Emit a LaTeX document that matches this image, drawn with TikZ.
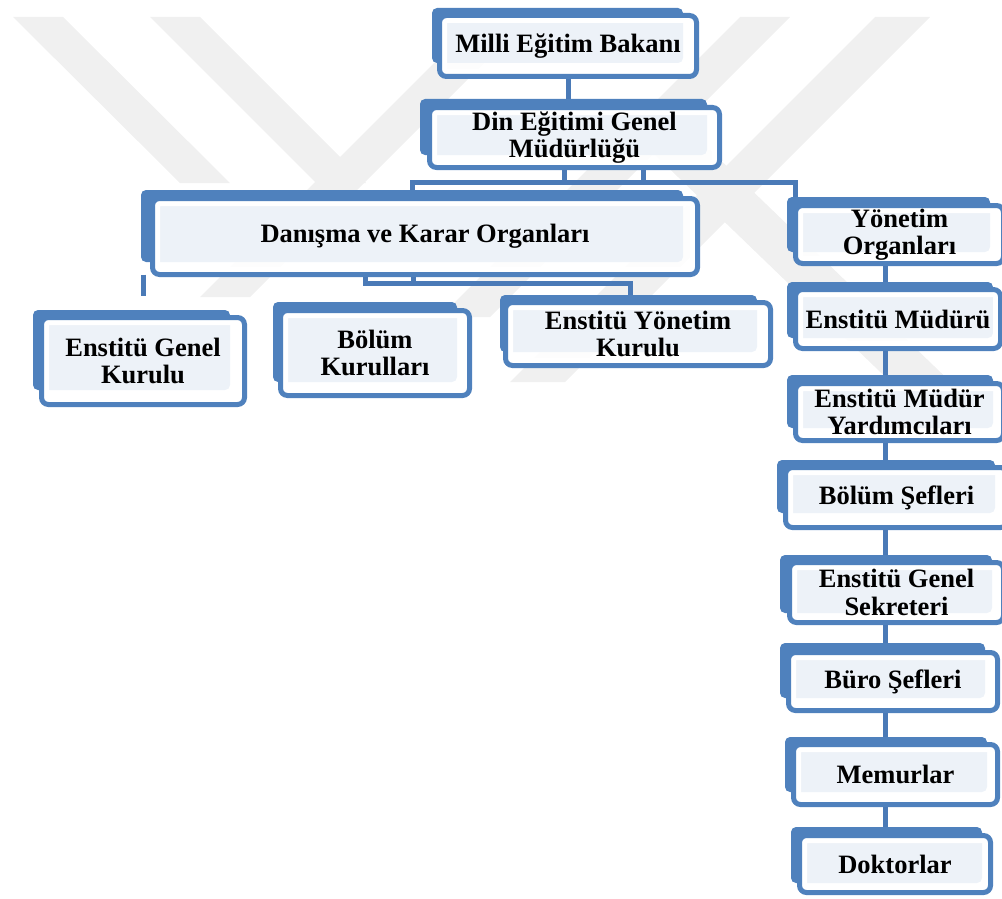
\documentclass[tikz,border=0pt]{standalone}
\usepackage{fontspec}
\setmainfont{Liberation Serif}
\pgfdeclarelayer{wm}
\pgfdeclarelayer{bg}
\pgfsetlayers{wm,bg,main}
\definecolor{ob}{HTML}{4F81BD}
\definecolor{cn}{HTML}{4A7AB7}
\definecolor{wmc}{HTML}{F0F0F0}
\newcommand\fsz{\fontsize{26.5}{27.5}\selectfont\bfseries}
\begin{document}
\begin{tikzpicture}[x=1pt,y=-1pt,
  back/.style={fill=ob, rounded corners=5pt},
  front/.style={draw=ob, line width=5pt, fill=white, fill opacity=0.9, text opacity=1,
    rounded corners=7pt, inner sep=0pt, outer sep=0pt, align=center, font=\fsz, text=black,
    path picture={\draw[white, line width=15pt, rounded corners=7pt]
      (path picture bounding box.south west) rectangle (path picture bounding box.north east);}},
  conn/.style={draw=cn, line width=5pt},
  wmark/.style={fill=wmc}]
\useasboundingbox (0,0) rectangle (1002,899);

% back plates
\path[back] (432,8) rectangle (683,63);
\path[back] (420,99) rectangle (707,155);
\path[back] (141,190) rectangle (683,262);
\path[back] (787,197) rectangle (990,252);
\path[back] (787,282) rectangle (993,338);
\path[back] (787,375) rectangle (993,428);
\path[back] (777,460) rectangle (995,513);
\path[back] (780,555) rectangle (992,613);
\path[back] (780,643) rectangle (985,698);
\path[back] (785,737) rectangle (987,792);
\path[back] (791,827) rectangle (982,883);
\path[back] (33,310) rectangle (230,390);
\path[back] (273,302) rectangle (457,382);
\path[back] (500,295) rectangle (757,352);

% front boxes
\node[front, minimum width=257pt, minimum height=61pt] (milli) at (568,46) {Milli Eğitim Bakanı};
\node[front, minimum width=290pt, minimum height=60pt] (din) at (574.5,137.5) {Din Eğitimi Genel\\Müdürlüğü};
\node[front, minimum width=545pt, minimum height=76pt] (dan) at (425,236.5) {Danışma ve Karar Organları};
\node[front, minimum width=208pt, minimum height=58pt] (yon) at (899.5,234.5) {Yönetim\\Organları};
\node[front, minimum width=205pt, minimum height=59pt] (mud) at (898,319) {Enstitü Müdürü};
\node[front, minimum width=208pt, minimum height=57pt] (yard) at (899.5,412) {Enstitü Müdür\\Yardımcıları};
\node[front, minimum width=222pt, minimum height=60pt] (bol) at (896.5,497.5) {Bölüm Şefleri};
\node[front, minimum width=214pt, minimum height=60pt] (sek) at (896.5,592.5) {Enstitü Genel\\Sekreteri};
\node[front, minimum width=209pt, minimum height=58pt] (buro) at (893,681.5) {Büro Şefleri};
\node[front, minimum width=204pt, minimum height=60pt] (mem) at (895.5,774.5) {Memurlar};
\node[front, minimum width=191pt, minimum height=57pt] (dok) at (895,864) {Doktorlar};
\node[front, minimum width=203pt, minimum height=87pt] (egk) at (143,361) {Enstitü Genel\\Kurulu};
\node[front, minimum width=189pt, minimum height=85pt] (bk) at (375,353) {Bölüm\\Kurulları};
\node[front, minimum width=265pt, minimum height=63pt] (eyk) at (638,334) {Enstitü Yönetim\\Kurulu};

% connectors
\coordinate (b1) at (412,182);
\coordinate (b2) at (795,182);
\coordinate (d1) at (564,182);
\coordinate (d2) at (643,182);
\coordinate (c0) at (143,296);
\coordinate (m1) at (365,283);
\coordinate (m2) at (413,283);
\coordinate (m3) at (630,283);
\coordinate (rx) at (885,0);
\begin{pgfonlayer}{bg}
\draw[conn] (milli.south) -- (milli.south |- din.north);
\draw[conn] (b1 |- dan.north) -- (b1) -- (b2) -- (b2 |- yon.north);
\draw[conn] (d1 |- din.south) -- (d1);
\draw[conn] (d2 |- din.south) -- (d2);
\draw[conn] (c0 |- dan.south) -- (c0);
\draw[conn] (m1 |- dan.south) -- (m1) -- (m3) -- (m3 |- eyk.north);
\draw[conn] (m2 |- dan.south) -- (m2);
\draw[conn] (rx |- yon.south) -- (rx |- mud.north);
\draw[conn] (rx |- mud.south) -- (rx |- yard.north);
\draw[conn] (rx |- yard.south) -- (rx |- bol.north);
\draw[conn] (rx |- bol.south) -- (rx |- sek.north);
\draw[conn] (rx |- sek.south) -- (rx |- buro.north);
\draw[conn] (rx |- buro.south) -- (rx |- mem.north);
\draw[conn] (rx |- mem.south) -- (rx |- dok.north);
\end{pgfonlayer}

% faint watermark
\begin{pgfonlayer}{wm}
\path[wmark] (13,17) -- (63,17) -- (230,183) -- (180,183) -- cycle;
\path[wmark] (150,17) -- (200,17) -- (366,183) -- (316,183) -- cycle;
\path[wmark] (480,17) -- (530,17) -- (250,297) -- (200,297) -- cycle;
\path[wmark] (740,17) -- (790,17) -- (490,317) -- (440,317) -- cycle;
\path[wmark] (875,17) -- (930,17) -- (565,382) -- (510,382) -- cycle;
\path[wmark] (650,150) -- (710,150) -- (990,420) -- (930,420) -- cycle;
\end{pgfonlayer}
\end{tikzpicture}
\end{document}
